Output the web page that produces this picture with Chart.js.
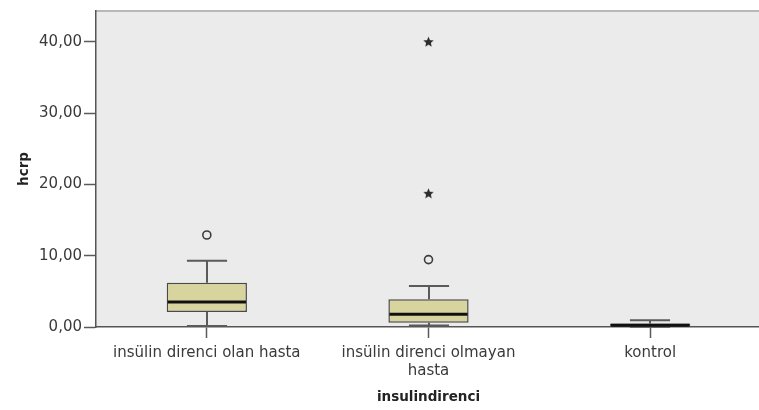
<!DOCTYPE html>
<html>
<head>
<meta charset="utf-8">
<script src="https://cdn.jsdelivr.net/npm/chart.js@4.4.1/dist/chart.umd.min.js"></script>
<style>
  html, body { margin: 0; padding: 0; background: #ffffff; overflow: hidden; }
  #wrap { position: absolute; left: 0; top: 0; width: 767px; height: 410px; }
</style>
</head>
<body>
<div id="wrap"><canvas id="c" width="767" height="410"></canvas></div>
<script>
// Groups on the x axis
const categories = ['insülin direnci olan hasta', ['insülin direnci olmayan', 'hasta'], 'kontrol'];

// Box plot summary per group (hcrp)
const whiskerLow  = [0.15, 0.2, 0.02];
const boxQ1       = [2.1, 0.6, 0.1];
const medians     = [3.5, 1.8, 0.25];
const boxQ3       = [6.2, 3.9, 0.5];
const whiskerHigh = [9.3, 5.75, 0.95];

// Outliers (circles) and extreme values (stars): group index + value
const outlierGroup = [0, 1];
const outlierValue = [12.9, 9.45];
const extremeGroup = [1, 1];
const extremeValue = [40.0, 18.75];

// Y axis ticks
const yTicks = [0, 10, 20, 30, 40];
const yMax = 44.3;

const fmt = v => v.toFixed(2).replace('.', ',');

// Filled five-point star used for extreme values
function makeStar(size, color) {
  const cv = document.createElement('canvas');
  cv.width = size; cv.height = size;
  const g = cv.getContext('2d');
  const cx = size / 2, cy = size / 2 + 0.5, R = size / 2, r = R * 0.45;
  g.beginPath();
  for (let i = 0; i < 10; i++) {
    const rad = i % 2 === 0 ? R : r;
    const a = -Math.PI / 2 + i * Math.PI / 5;
    const px = cx + rad * Math.cos(a), py = cy + rad * Math.sin(a);
    if (i === 0) g.moveTo(px, py); else g.lineTo(px, py);
  }
  g.closePath();
  g.fillStyle = color;
  g.fill();
  return cv;
}
const starImg = makeStar(11, '#2b2b2b');

// Plot background, top frame line, whiskers and medians
const boxDecor = {
  id: 'boxDecor',
  beforeDraw(chart) {
    const { ctx, chartArea: a } = chart;
    ctx.save();
    ctx.fillStyle = '#ebebeb';
    ctx.fillRect(a.left, a.top, a.right - a.left, a.bottom - a.top);
    ctx.strokeStyle = '#b8b8b8';
    ctx.lineWidth = 2;
    ctx.beginPath();
    ctx.moveTo(a.left, a.top);
    ctx.lineTo(a.right, a.top);
    ctx.stroke();
    ctx.restore();
  },
  beforeDatasetsDraw(chart) {
    const { ctx } = chart;
    const y = chart.scales.y;
    const meta = chart.getDatasetMeta(0);
    ctx.save();
    ctx.strokeStyle = '#5a5a5a';
    ctx.lineWidth = 2;
    meta.data.forEach((bar, i) => {
      const x = Math.round(bar.x);
      const half = bar.width / 4;
      const yLo = y.getPixelForValue(whiskerLow[i]);
      const yHi = y.getPixelForValue(whiskerHigh[i]);
      const yQ1 = y.getPixelForValue(boxQ1[i]);
      const yQ3 = y.getPixelForValue(boxQ3[i]);
      ctx.beginPath();
      ctx.moveTo(x, yQ3); ctx.lineTo(x, yHi);
      ctx.moveTo(x, yQ1); ctx.lineTo(x, yLo);
      ctx.moveTo(x - half, yHi); ctx.lineTo(x + half, yHi);
      ctx.moveTo(x - half, yLo); ctx.lineTo(x + half, yLo);
      ctx.stroke();
    });
    ctx.restore();
  },
  afterDatasetDraw(chart, args) {
    if (args.index !== 0) return;
    const { ctx } = chart;
    const y = chart.scales.y;
    ctx.save();
    ctx.strokeStyle = '#111111';
    ctx.lineWidth = 3;
    args.meta.data.forEach((bar, i) => {
      const ym = y.getPixelForValue(medians[i]);
      ctx.beginPath();
      ctx.moveTo(bar.x - bar.width / 2 + 1, ym);
      ctx.lineTo(bar.x + bar.width / 2 - 1, ym);
      ctx.stroke();
    });
    ctx.restore();
  }
};

const tickFont = { family: 'DejaVu Sans', size: 15 };
const titleFont = { family: 'DejaVu Sans', size: 13.5, weight: 'bold' };

new Chart(document.getElementById('c'), {
  type: 'bar',
  data: {
    labels: categories,
    datasets: [
      {
        type: 'bar',
        data: boxQ1.map((q, i) => [q, boxQ3[i]]),
        backgroundColor: '#d8d49e',
        borderColor: '#4a4a4a',
        borderWidth: 1.5,
        borderSkipped: false,
        barPercentage: 0.362,
        categoryPercentage: 1.0
      },
      {
        type: 'scatter',
        data: outlierGroup.map((g, i) => ({ x: categories[g], y: outlierValue[i] })),
        pointStyle: 'circle',
        pointRadius: 4,
        pointBorderWidth: 1.6,
        pointBorderColor: '#3c3c3c',
        pointBackgroundColor: 'rgba(0,0,0,0)'
      },
      {
        type: 'scatter',
        data: extremeGroup.map((g, i) => ({ x: categories[g], y: extremeValue[i] })),
        pointStyle: starImg,
        pointRadius: 5
      }
    ]
  },
  options: {
    responsive: false,
    animation: false,
    layout: { padding: { top: 9, right: 0, left: 0, bottom: 0 } },
    plugins: { legend: { display: false }, tooltip: { enabled: false } },
    scales: {
      x: {
        type: 'category',
        offset: true,
        afterFit(s) { s.height = 83; },
        grid: { display: true, drawOnChartArea: false, offset: false, tickLength: 11, tickColor: '#5a5a5a', tickWidth: 1.5 },
        border: { display: true, color: '#555555', width: 1.5 },
        ticks: { color: '#3a3a3a', font: tickFont, padding: 6, maxRotation: 0, autoSkip: false },
        title: { display: true, text: 'insulindirenci', color: '#222222', font: titleFont, padding: { top: 0, bottom: 4 } }
      },
      y: {
        min: 0,
        max: yMax,
        afterFit(s) { s.width = 96; },
        afterBuildTicks(s) { s.ticks = yTicks.map(v => ({ value: v })); },
        grid: { display: true, drawOnChartArea: false, tickLength: 12, tickColor: '#5a5a5a', tickWidth: 1.5 },
        border: { display: true, color: '#555555', width: 1.5 },
        ticks: { color: '#3a3a3a', font: tickFont, padding: 2, callback: v => fmt(v) },
        title: { display: true, text: 'hcrp', color: '#222222', font: titleFont, padding: { top: 16, bottom: 0 } }
      }
    }
  },
  plugins: [boxDecor]
});
</script>
</body>
</html>
